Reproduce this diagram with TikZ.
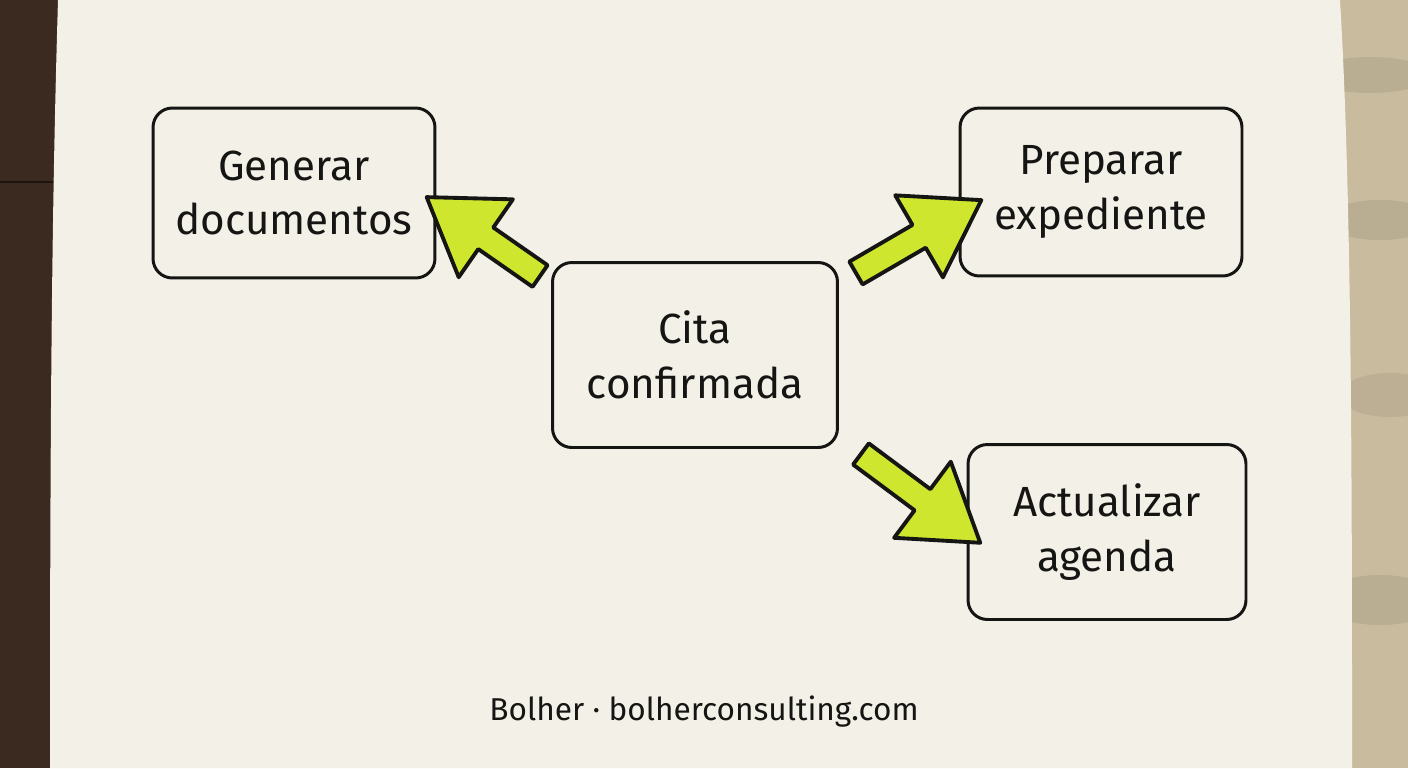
\documentclass[tikz,border=0pt]{standalone}
\usepackage{fontspec}
\setmainfont{Fira Sans}
\usetikzlibrary{calc}

\definecolor{paper}{HTML}{F3F0E7}
\definecolor{wood}{HTML}{3A2A1F}
\definecolor{stone}{HTML}{C8BB9E}
\definecolor{ink}{HTML}{151513}
\definecolor{marker}{HTML}{CFE62E}

\begin{document}
\begin{tikzpicture}[x=0.02cm, y=-0.02cm,
    box/.style={draw=ink, line width=1.7pt, rounded corners=11pt, align=center,
        text=ink, inner sep=0pt, font=\fontsize{24}{31}\selectfont},
    bigarrow/.style={draw=ink, fill=marker, line width=2.2pt, line join=round,
        to path={let \p1=(\tikztostart), \p2=(\tikztotarget),
            \n1={atan2(\y2-\y1,\x2-\x1)}, \n2={veclen(\x2-\x1,\y2-\y1)} in
            [shift={(\p1)}, rotate=\n1]
            (0pt,-7.5pt) -- (\n2-41pt,-7.5pt) -- (\n2-41pt,-27pt) -- (\n2,0pt)
            -- (\n2-41pt,27pt) -- (\n2-41pt,7.5pt) -- (0pt,7.5pt) -- cycle}}]

    \useasboundingbox (0,0) rectangle (1408,768);

    % table and paper
    \fill[wood] (0,0) rectangle (70,768);
    \draw[black, opacity=0.5, line width=1.5pt] (0,182) -- (60,182);
    \fill[stone] (1320,0) rectangle (1408,768);
    \fill[stone!60!black, opacity=0.18] (1370,75) ellipse (60 and 18);
    \fill[stone!60!black, opacity=0.18] (1380,220) ellipse (55 and 20);
    \fill[stone!60!black, opacity=0.15] (1390,395) ellipse (50 and 22);
    \fill[stone!60!black, opacity=0.18] (1380,600) ellipse (60 and 25);
    \fill[paper] (58,0) -- (1340,0) .. controls (1352,200) and (1352,500) .. (1352,768)
        -- (50,768) .. controls (50,400) and (52,200) .. (58,0) -- cycle;

    \node[box, minimum width=5.64cm, minimum height=3.4cm] (docs) at (294,193) {Generar\\documentos};
    \node[box, minimum width=5.64cm, minimum height=3.36cm] (exped) at (1101,192) {Preparar\\expediente};
    \node[box, minimum width=5.7cm, minimum height=3.7cm] (cita) at (695,355) {Cita\\confirmada};
    \node[box, minimum width=5.56cm, minimum height=3.5cm] (agenda) at (1107,532) {Actualizar\\agenda};

    \coordinate (genTail) at ($(cita.north west)+(-11,15)$);
    \coordinate (genTip) at ($(docs.east)+(-10,4)$);
    \coordinate (expTail) at ($(cita.north east)+(17,12)$);
    \coordinate (expTip) at ($(exped.west)+(23,8)$);
    \coordinate (ageTail) at ($(cita.south east)+(22,5)$);
    \coordinate (ageTip) at ($(agenda.west)+(14,11)$);

    \draw[bigarrow] (genTail) to (genTip);
    \draw[bigarrow] (expTail) to (expTip);
    \draw[bigarrow] (ageTail) to (ageTip);

    \node[text=ink, font=\fontsize{18}{22}\selectfont] (credit) at (704,712) {Bolher · bolherconsulting.com};

\end{tikzpicture}
\end{document}
